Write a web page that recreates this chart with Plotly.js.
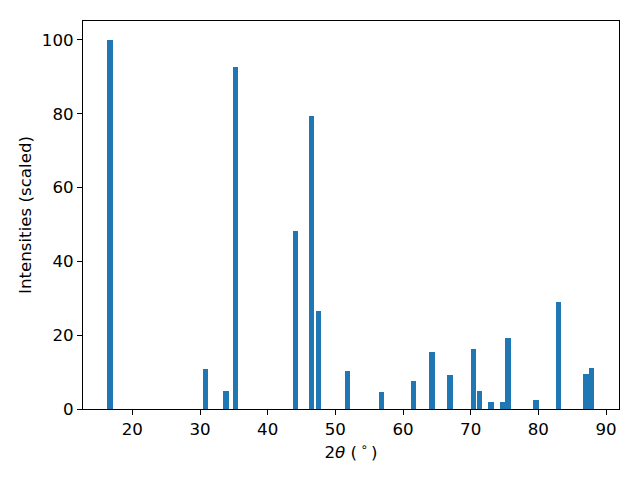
<!DOCTYPE html>
<html>
<head>
<meta charset="utf-8">
<script src="https://cdn.plot.ly/plotly-3.0.1.min.js"></script>
<style>html,body{margin:0;padding:0;background:#fff;}#chart{width:640px;height:480px;}</style>
</head>
<body>
<div id="chart"></div>
<script>
const twoTheta = [16.70, 30.82, 33.82, 35.25, 44.12, 46.48, 47.52, 51.80, 56.83, 61.55, 64.29, 66.95, 70.42, 71.31, 73.00, 74.70, 75.52, 79.66, 82.98, 87.05, 87.86];
const intensity = [100, 10.8, 4.9, 92.7, 48.2, 79.4, 26.6, 10.3, 4.6, 7.6, 15.4, 9.2, 16.3, 4.9, 1.9, 1.9, 19.2, 2.4, 29.0, 9.5, 11.1];
const xTicks = [20, 30, 40, 50, 60, 70, 80, 90];
const yTicks = [0, 20, 40, 60, 80, 100];

const font = {family: 'DejaVu Sans', size: 16.67, color: '#000'};
const trace = {
  type: 'bar',
  x: twoTheta,
  y: intensity,
  width: 0.8,
  marker: {color: '#1f77b4', line: {width: 0}},
  hoverinfo: 'skip'
};
const layout = {
  width: 640, height: 480,
  margin: {l: 83, r: 21, t: 21, b: 71},
  paper_bgcolor: '#fff', plot_bgcolor: '#fff',
  font: font,
  showlegend: false,
  xaxis: {
    range: [12.71, 91.92],
    tickvals: xTicks, ticktext: xTicks.map(String),
    showgrid: false, zeroline: false,
    showline: true, mirror: true, linecolor: '#000', linewidth: 1,
    ticks: 'outside', ticklen: 5, tickcolor: '#000', tickwidth: 1,
    tickfont: font,
    title: {text: '2<i>θ</i> (\u2009<sup>∘</sup>\u2009)', font: font, standoff: 8}
  },
  yaxis: {
    range: [0, 105.1],
    tickvals: yTicks, ticktext: yTicks.map(String),
    showgrid: false, zeroline: false,
    showline: true, mirror: true, linecolor: '#000', linewidth: 1,
    ticks: 'outside', ticklen: 5, tickcolor: '#000', tickwidth: 1,
    tickfont: font,
    title: {text: 'Intensities (scaled)', font: font, standoff: 6}
  },
  bargap: 0
};
Plotly.newPlot('chart', [trace], layout, {displayModeBar: false, staticPlot: true});
</script>
</body>
</html>
